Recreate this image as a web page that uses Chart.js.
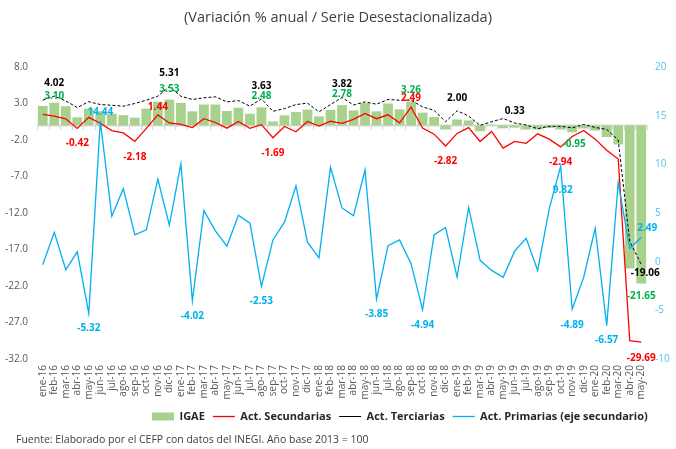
<!DOCTYPE html>
<html>
<head>
<meta charset="utf-8">
<script src="https://cdn.jsdelivr.net/npm/chart.js@4.4.0/dist/chart.umd.min.js"></script>
<style>
  html, body { margin: 0; padding: 0; background: #fff; }
  #wrap { position: relative; width: 676px; height: 449px; }
  #title { position: absolute; top: 7px; left: 0; width: 676px; text-align: center; font: 14.5px "Open Sans", sans-serif; color: #404040; }
  #fuente { position: absolute; left: 16px; top: 432px; font: 10.5px "Open Sans", sans-serif; color: #404040; }
  canvas { position: absolute; left: 0; top: 0; }
</style>
</head>
<body>
<div id="wrap">
  <canvas id="igaeChart" width="676" height="449"></canvas>
  <div id="title">(Variación % anual / Serie Desestacionalizada)</div>
  <div id="fuente">Fuente: Elaborado por el CEFP con datos del INEGI. Año base 2013 = 100</div>
</div>
<script>
// meses (eje de categorias)
const months = [
  "ene-16","feb-16","mar-16","abr-16","may-16","jun-16","jul-16","ago-16","sep-16","oct-16","nov-16","dic-16",
  "ene-17","feb-17","mar-17","abr-17","may-17","jun-17","jul-17","ago-17","sep-17","oct-17","nov-17","dic-17",
  "ene-18","feb-18","mar-18","abr-18","may-18","jun-18","jul-18","ago-18","sep-18","oct-18","nov-18","dic-18",
  "ene-19","feb-19","mar-19","abr-19","may-19","jun-19","jul-19","ago-19","sep-19","oct-19","nov-19","dic-19",
  "ene-20","feb-20","mar-20","abr-20","may-20"
];

// IGAE (barras, eje izquierdo)
const igae = [
  2.67, 3.10, 2.62, 1.10, 2.30, 1.93, 1.60, 1.40, 1.06, 2.30, 3.22, 3.53,
  3.08, 1.93, 2.86, 2.86, 1.97, 2.42, 1.60, 2.48, 0.54, 1.38, 1.83, 2.16,
  1.24, 2.11, 2.78, 2.05, 3.05, 1.93, 3.00, 2.20, 3.26, 1.75, 1.14, -0.55,
  0.82, 0.68, -0.80, 0.10, -0.40, -0.30, -0.57, -0.55, -0.35, -0.57, -0.95, -0.42,
  -0.71, -1.60, -2.60, -19.60, -21.65
];

// Actividades secundarias (eje izquierdo)
const secundarias = [
  1.50, 1.28, 0.90, -0.42, 1.10, 0.30, -0.71, -1.03, -2.18, -0.40, 1.44, 0.33,
  0.15, -0.30, 0.92, 0.40, -0.38, 0.55, -0.39, 0.10, -1.69, -0.15, -0.87, 0.54,
  -0.10, 0.57, 0.27, 0.82, 1.65, 0.92, 1.45, 0.36, 2.49, -0.35, -1.20, -2.82,
  -1.10, -0.30, -2.20, -0.82, -3.10, -2.20, -2.45, -1.15, -1.88, -2.94, -1.52, -0.70,
  -1.88, -3.40, -4.60, -29.50, -29.69
];

// Actividades terciarias (eje izquierdo)
const terciarias = [
  3.46, 4.02, 3.36, 2.44, 3.25, 2.86, 2.76, 2.63, 3.00, 3.46, 4.00, 5.31,
  4.00, 3.55, 3.78, 3.92, 3.22, 3.40, 2.63, 3.63, 1.93, 2.30, 2.85, 3.05,
  1.85, 2.85, 3.82, 2.80, 3.22, 2.90, 3.55, 3.45, 3.45, 2.53, 2.07, 0.50,
  2.00, 1.28, 0.00, 0.50, 0.95, 0.33, 0.05, -0.45, -0.12, -0.12, -0.34, 0.13,
  -0.28, -0.55, -2.00, -15.90, -19.06
];

// Actividades primarias (eje secundario)
const primarias = [
  -0.31, 3.02, -0.83, 1.01, -5.32, 14.44, 4.66, 7.50, 2.75, 3.27, 8.48, 3.75,
  10.04, -4.02, 5.25, 3.17, 1.60, 4.76, 3.96, -2.53, 2.23, 4.06, 7.78, 2.00,
  0.39, 9.69, 5.52, 4.73, 9.42, -3.85, 1.64, 2.23, -0.20, -4.94, 2.75, 3.51,
  -1.60, 5.57, 0.14, -0.90, -1.60, 1.08, 2.40, -0.90, 5.40, 9.82, -4.89, -1.60,
  3.44, -6.57, 8.13, 1.35, 2.49
];

const FONT = "'Open Sans', sans-serif";

// etiquetas de valor: indice del mes + desplazamiento (dx, dy) en pixeles
const valueLabels = {
  id: "valueLabels",
  afterDatasetsDraw(chart) {
    const ctx = chart.ctx;
    ctx.save();
    ctx.font = "bold 10px " + FONT;
    ctx.textAlign = "center";
    ctx.textBaseline = "middle";
    chart.data.datasets.forEach((ds, di) => {
      const meta = chart.getDatasetMeta(di);
      (ds.marks || []).forEach(([i, dx, dy]) => {
        const el = meta.data[i];
        ctx.fillStyle = ds.labelColor;
        ctx.fillText(ds.data[i].toFixed(2), el.x + dx, el.y + dy);
      });
    });
    ctx.restore();
  }
};

// linea del eje de categorias en cero, con marcas entre meses
const zeroAxis = {
  id: "zeroAxis",
  beforeDatasetsDraw(chart) {
    const { ctx, chartArea, scales } = chart;
    const y0 = scales.y.getPixelForValue(0);
    const step = (chartArea.right - chartArea.left) / months.length;
    ctx.save();
    ctx.strokeStyle = "#d9d9d9";
    ctx.lineWidth = 2;
    ctx.beginPath();
    ctx.moveTo(chartArea.left, y0);
    ctx.lineTo(chartArea.right, y0);
    ctx.stroke();
    ctx.lineWidth = 1;
    ctx.beginPath();
    for (let i = 0; i <= months.length; i++) {
      const px = Math.round(chartArea.left + i * step) + 0.5;
      ctx.moveTo(px, y0);
      ctx.lineTo(px, y0 + 5);
    }
    ctx.stroke();
    ctx.restore();
  },
  afterLayout(chart) {
    // leyenda desplazada como en el original
    const lg = chart.legend;
    if (lg) { lg.left = 152 - lg.options.labels.padding; }
  }
};

const ctx = document.getElementById("igaeChart").getContext("2d");

const chart = new Chart(ctx, {
  type: "bar",
  data: {
    labels: months,
    datasets: [
      {
        type: "bar",
        label: "IGAE",
        data: igae,
        backgroundColor: "#a9d18e",
        borderWidth: 0,
        categoryPercentage: 1,
        barPercentage: 0.85,
        yAxisID: "y",
        order: 4,
        labelColor: "#00b050",
        marks: [[1, 0, -7], [11, 0, -10], [19, 0, -11], [26, 0, -11], [32, 0, -11], [46, 2, 12], [52, 0, 13]]
      },
      {
        type: "line",
        label: "Act. Secundarias",
        data: secundarias,
        borderColor: "#ff0000",
        borderWidth: 1.3,
        pointRadius: 0,
        tension: 0,
        yAxisID: "y",
        order: 3,
        labelColor: "#ff0000",
        marks: [[3, 0, 15], [8, 0, 16], [10, 0, -8], [20, 0, 15], [32, 0, -9], [35, 0, 15], [45, 0, 15], [52, 0, 16]]
      },
      {
        type: "line",
        label: "Act. Terciarias",
        data: terciarias,
        borderColor: "#000000",
        borderWidth: 1,
        borderDash: [3, 2],
        pointRadius: 0,
        tension: 0,
        yAxisID: "y",
        order: 2,
        labelColor: "#000000",
        marks: [[1, 0, -13], [11, 0, -13], [19, 0, -13], [26, 0, -13], [36, 0, -13], [41, 0, -12], [52, 4, 9]]
      },
      {
        type: "line",
        label: "Act. Primarias (eje secundario)",
        data: primarias,
        borderColor: "#00b0f0",
        borderWidth: 1.3,
        pointRadius: 0,
        tension: 0,
        yAxisID: "y2",
        order: 1,
        labelColor: "#00b0f0",
        marks: [[4, 0, 15], [5, 0, -9], [13, 0, 15], [19, 0, 15], [29, 0, 15], [33, 0, 15], [45, 2, 24], [46, 0, 16], [49, 0, 15], [52, 6, -9]]
      }
    ]
  },
  options: {
    responsive: false,
    animation: false,
    devicePixelRatio: 1,
    layout: { padding: { top: 67, left: 0, right: 0, bottom: 17 } },
    scales: {
      x: {
        grid: { display: false, drawTicks: false },
        border: { display: false },
        ticks: {
          autoSkip: false, maxRotation: 90, minRotation: 90, padding: 6,
          color: "#595959", font: { family: FONT, size: 10 }
        },
        afterFit(scale) { scale.height = 44; }
      },
      y: {
        position: "left",
        min: -32, max: 8,
        grid: { display: false, drawTicks: false },
        border: { display: false },
        ticks: {
          stepSize: 5, padding: 9, color: "#595959", font: { family: FONT, size: 10 },
          callback: v => v.toFixed(1)
        },
        afterFit(scale) { scale.width = 37; }
      },
      y2: {
        position: "right",
        min: -10, max: 20,
        grid: { display: false, drawTicks: false },
        border: { display: false },
        ticks: { stepSize: 5, padding: 8, color: "#4fc3f0", font: { family: FONT, size: 10 } },
        afterFit(scale) { scale.width = 29; }
      }
    },
    plugins: {
      tooltip: { enabled: false },
      legend: {
        position: "bottom",
        align: "start",
        labels: {
          usePointStyle: true,
          pointStyleWidth: 22,
          boxHeight: 8,
          padding: 8,
          color: "#262626",
          font: { family: FONT, size: 11, weight: "bold" },
          sort: (a, b) => a.datasetIndex - b.datasetIndex,
          generateLabels(chart) {
            const items = Chart.defaults.plugins.legend.labels.generateLabels(chart);
            items.forEach(it => {
              const ds = chart.data.datasets[it.datasetIndex];
              it.pointStyle = ds.type === "bar" ? "rect" : "line";
            });
            return items;
          }
        }
      }
    }
  },
  plugins: [zeroAxis, valueLabels]
});
</script>
</body>
</html>
